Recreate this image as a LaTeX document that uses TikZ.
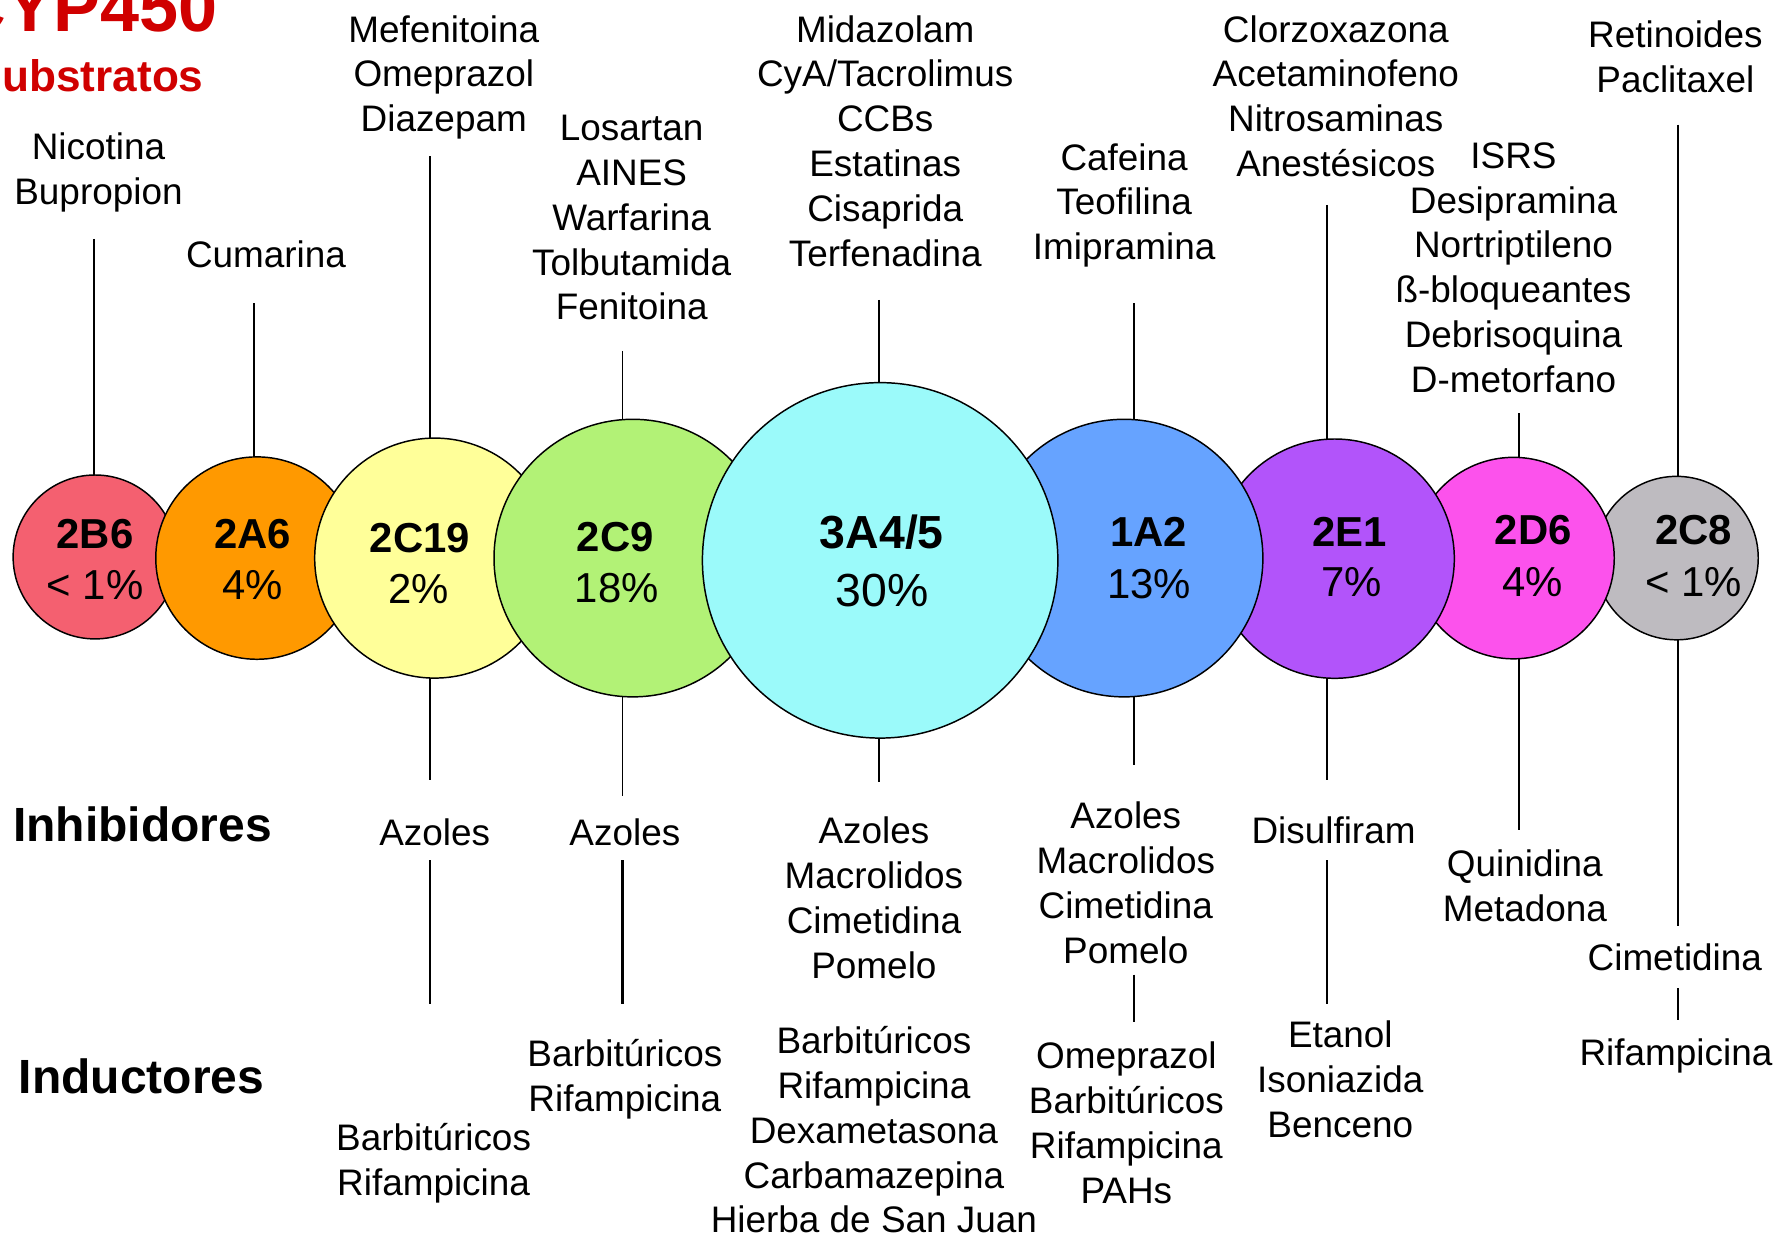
\documentclass[tikz,border=0pt]{standalone}
\usepackage{fontspec}
\setmainfont{Liberation Sans}
\usetikzlibrary{backgrounds}
\definecolor{cB6}{RGB}{244,96,112}
\definecolor{cA6}{RGB}{255,153,0}
\definecolor{cC19}{RGB}{255,255,153}
\definecolor{cC9}{RGB}{178,242,118}
\definecolor{cA4}{RGB}{155,250,250}
\definecolor{cA2}{RGB}{102,163,255}
\definecolor{cE1}{RGB}{178,84,250}
\definecolor{cD6}{RGB}{252,82,236}
\definecolor{cC8}{RGB}{190,187,192}
\definecolor{titred}{RGB}{208,0,0}
\newcommand{\lblfont}{\fontsize{32.6}{39.6}\selectfont}
\newcommand{\tstrut}{\rule{0pt}{30pt}}
\begin{document}
\begin{tikzpicture}[x=1pt,y=-1pt,
  lbl/.style={align=center, inner sep=0pt, anchor=north, font=\lblfont},
  enz/.style={circle, draw=black, line width=1.3pt, inner sep=0pt, minimum size=#1},
  ename/.style={anchor=base, inner sep=0pt, font=\fontsize{37}{40}\selectfont\bfseries},
  epct/.style={anchor=base, inner sep=0pt, font=\fontsize{37}{40}\selectfont},
  bigname/.style={anchor=base, inner sep=0pt, font=\fontsize{41}{44}\selectfont\bfseries},
  bigpct/.style={anchor=base, inner sep=0pt, font=\fontsize{41}{44}\selectfont},
  rowhead/.style={anchor=base west, inner sep=0pt, font=\fontsize{42.4}{45}\selectfont\bfseries},
  thk/.style={line width=2.0pt},
  thn/.style={line width=1.4pt}]
\useasboundingbox (0,0) rectangle (1568,1092);
\clip (0,0) rectangle (1568,1092);

% title
\node[anchor=base east, inner sep=0pt, text=titred, font=\fontsize{62}{66}\selectfont\bfseries] (title) at (192,28) {CYP450};
\node[anchor=base east, inner sep=0pt, text=titred, font=\fontsize{39}{42}\selectfont\bfseries] (subs) at (180,81) {Substratos};
\node[rowhead] (inhib) at (11.5,743.5) {Inhibidores};
\node[rowhead] (induc) at (16.5,965.8) {Inductores};

% enzyme circles (stacking order)
\node[enz=144.8pt, fill=cB6] (e2B6) at (84,492) {};
\node[enz=178.8pt, fill=cA6] (e2A6) at (227,493) {};
\node[enz=212pt, fill=cC19] (e2C19) at (384,493) {};
\node[enz=245.2pt, fill=cC9] (e2C9) at (559,493) {};
\node[enz=144.4pt, fill=cC8] (e2C8) at (1481,493) {};
\node[enz=178pt, fill=cD6] (e2D6) at (1337,493) {};
\node[enz=211.4pt, fill=cE1] (e2E1) at (1179,493.5) {};
\node[enz=245.2pt, fill=cA2] (e1A2) at (993,493) {};
\node[enz=314pt, fill=cA4] (e3A4) at (777.5,495) {};

% enzyme labels
\node[ename] (n2B6) at (84,484.4) {2B6};
\node[epct]  (p2B6) at (84,529.4) {< 1\%};
\node[ename] (n2A6) at (223,484.4) {2A6};
\node[epct]  (p2A6) at (223,530) {4\%};
\node[ename] (n2C19) at (371,488) {2C19};
\node[epct]  (p2C19) at (370,533) {2\%};
\node[ename] (n2C9) at (543.5,487.3) {2C9};
\node[epct]  (p2C9) at (544.8,532.4) {18\%};
\node[bigname] (n3A4) at (779,484.4) {3A4/5};
\node[bigpct]  (p3A4) at (779,535.9) {30\%};
\node[ename] (n1A2) at (1014.5,483) {1A2};
\node[epct]  (p1A2) at (1015,528.6) {13\%};
\node[ename] (n2E1) at (1192,483) {2E1};
\node[epct]  (p2E1) at (1194,527) {7\%};
\node[ename] (n2D6) at (1354.5,481.4) {2D6};
\node[epct]  (p2D6) at (1354,527) {4\%};
\node[ename] (n2C8) at (1496,481.4) {2C8};
\node[epct]  (p2C8) at (1496,527) {< 1\%};

% substrates
\node[lbl] (s2B6) at (87,111) {\tstrut Nicotina\\Bupropion};
\node[lbl] (s2A6) at (235,206) {\tstrut Cumarina};
\node[lbl] (s2C19) at (392,7) {\tstrut Mefenitoina\\Omeprazol\\Diazepam};
\node[lbl] (s2C9) at (558,94) {\tstrut Losartan\\AINES\\Warfarina\\Tolbutamida\\Fenitoina};
\node[lbl] (s3A4) at (782,7) {\tstrut Midazolam\\CyA/Tacrolimus\\CCBs\\Estatinas\\Cisaprida\\Terfenadina};
\node[lbl] (s1A2) at (993,120) {\tstrut Cafeina\\Teofilina\\Imipramina};
\node[lbl] (s2E1) at (1180,7) {\tstrut Clorzoxazona\\Acetaminofeno\\Nitrosaminas\\Anestésicos};
\node[lbl] (s2D6) at (1337,118.5) {\tstrut ISRS\\Desipramina\\Nortriptileno\\ß-bloqueantes\\Debrisoquina\\D-metorfano};
\node[lbl] (s2C8) at (1480,11.5) {\tstrut Retinoides\\Paclitaxel};

% inhibitors
\node[lbl] (i2C19) at (384,717) {\tstrut Azoles};
\node[lbl] (i2C9) at (552,717) {\tstrut Azoles};
\node[lbl] (i3A4) at (772,715) {\tstrut Azoles\\Macrolidos\\Cimetidina\\Pomelo};
\node[lbl] (i1A2) at (994.5,702) {\tstrut Azoles\\Macrolidos\\Cimetidina\\Pomelo};
\node[lbl] (i2E1) at (1178,715) {\tstrut Disulfiram};
\node[lbl] (i2D6) at (1347,744.5) {\tstrut Quinidina\\Metadona};
\node[lbl] (i2C8) at (1479.5,827) {\tstrut Cimetidina};

% inducers
\node[lbl] (d2C19) at (383,986) {\tstrut Barbitúricos\\Rifampicina};
\node[lbl] (d2C9) at (552,912) {\tstrut Barbitúricos\\Rifampicina};
\node[lbl] (d3A4) at (772,900.5) {\tstrut Barbitúricos\\Rifampicina\\Dexametasona\\Carbamazepina\\Hierba de San Juan};
\node[lbl] (d1A2) at (995,914) {\tstrut Omeprazol\\Barbitúricos\\Rifampicina\\PAHs};
\node[lbl] (d2E1) at (1184,895) {\tstrut Etanol\\Isoniazida\\Benceno};
\node[lbl] (d2C8) at (1480.5,911) {\tstrut Rifampicina};

% connector end points
\coordinate (t2B6) at (83.3,211);
\coordinate (t2A6) at (224.6,268);
\coordinate (t2C19) at (380,138);
\coordinate (t2C9) at (550,310);
\coordinate (t3A4) at (776.5,265);
\coordinate (t1A2) at (1002,268);
\coordinate (t2E1) at (1172,181);
\coordinate (t2D6) at (1342,365);
\coordinate (t2C8) at (1482,110);
\coordinate (b2C19) at (380,689);
\coordinate (b2C9) at (550,703);
\coordinate (b3A4) at (776.5,691);
\coordinate (b1A2) at (1002,676);
\coordinate (b2E1) at (1172,689);
\coordinate (b2D6) at (1342,733);
\coordinate (b2C8) at (1482,818);
\coordinate (u2C19) at (380,760);
\coordinate (v2C19) at (380,887);
\coordinate (u2C9) at (550,760);
\coordinate (v2C9) at (550,887);
\coordinate (u1A2) at (1002,861);
\coordinate (v1A2) at (1002,903);
\coordinate (u2E1) at (1172,760);
\coordinate (v2E1) at (1172,887);
\coordinate (u2C8) at (1482,873);
\coordinate (v2C8) at (1482,901);

\begin{pgfonlayer}{background}
\draw[thk] (t2B6) -- (t2B6 |- e2B6.center);
\draw[thk] (t2A6) -- (t2A6 |- e2A6.center);
\draw[thk] (t2C19) -- (t2C19 |- e2C19.center) -- (b2C19);
\draw[thn] (t2C9) -- (t2C9 |- e2C9.center) -- (b2C9);
\draw[thn] (t3A4) -- (t3A4 |- e3A4.center) -- (b3A4);
\draw[thk] (t1A2) -- (t1A2 |- e1A2.center) -- (b1A2);
\draw[thn] (t2E1) -- (t2E1 |- e2E1.center) -- (b2E1);
\draw[thn] (t2D6) -- (t2D6 |- e2D6.center) -- (b2D6);
\draw[thk] (t2C8) -- (t2C8 |- e2C8.center) -- (b2C8);
\end{pgfonlayer}
\draw[thk] (u2C19) -- (v2C19);
\draw[thk] (u2C9) -- (v2C9);
\draw[thk] (u1A2) -- (v1A2);
\draw[thk] (u2E1) -- (v2E1);
\draw[thk] (u2C8) -- (v2C8);
\end{tikzpicture}
\end{document}
